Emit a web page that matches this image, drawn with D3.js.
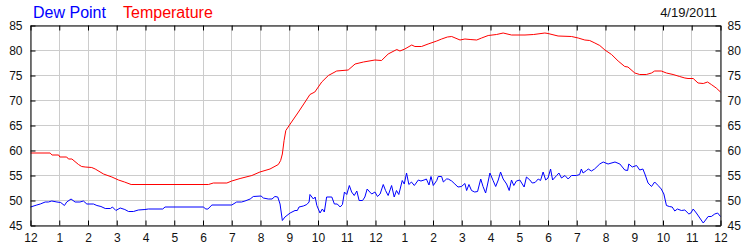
<!DOCTYPE html>
<html>
<head>
<meta charset="utf-8">
<script src="https://cdn.jsdelivr.net/npm/d3@7"></script>
<style>
  body { margin: 0; background: #fff; }
  svg { display: block; font-family: "Liberation Sans", Arial, sans-serif; }
</style>
</head>
<body>
<div id="chart"></div>
<script>
var chartDate = "4/19/2011";
var seriesNames = ["Dew Point", "Temperature"];
var yTicks = [45, 50, 55, 60, 65, 70, 75, 80, 85];

var tempHours = [0, 0.68, 0.75, 0.98, 1.02, 1.26, 1.32, 1.44, 1.67, 1.78, 1.9, 2.13, 2.25, 2.54, 2.83, 3.06, 3.27, 3.5,
  6.19, 6.36, 6.83, 7.0, 7.29, 7.7, 7.98, 8.33, 8.62, 8.7, 8.76, 8.82, 8.88, 9.08, 9.32, 9.55, 9.72, 9.89,
  10.13, 10.36, 10.65, 11.05, 11.29, 11.58, 11.98, 12.21, 12.44, 12.74, 12.85, 13.02, 13.26, 13.37, 13.6, 13.83,
  14.13, 14.3, 14.5, 14.65, 14.94, 15.11, 15.29, 15.52, 15.69, 15.92, 16.21, 16.44, 16.73, 17.2, 17.5, 17.89,
  18.0, 18.35, 18.82, 19.05, 19.28, 19.45, 19.63, 19.8, 19.98, 20.21, 20.44, 20.67, 20.78, 21.02, 21.19, 21.42,
  21.6, 21.71, 21.94, 22.12, 22.35, 22.58, 22.76, 22.87, 23.05, 23.22, 23.4, 23.55, 23.68, 23.85, 24.0];
var tempValues = [59.5, 59.5, 59.1, 59.1, 58.7, 58.7, 58.3, 58.3, 57.2, 56.8, 56.7, 56.6, 56.3, 55.3, 54.7, 54.1, 53.7, 53.2,
  53.2, 53.5, 53.5, 53.9, 54.4, 55.0, 55.7, 56.3, 57.2, 58.0, 59.3, 62.0, 64.0, 65.7, 67.7, 69.7, 71.2, 71.7,
  73.7, 75.0, 75.9, 76.1, 77.3, 77.7, 78.1, 78.0, 79.3, 80.2, 79.9, 80.3, 81.1, 80.8, 80.8, 81.3,
  81.9, 82.3, 82.7, 82.8, 82.1, 82.3, 82.2, 82.1, 82.5, 83.0, 83.2, 83.5, 83.1, 83.1, 83.2, 83.5,
  83.4, 82.9, 82.8, 82.5, 82.1, 82.0, 81.5, 81.0, 80.1, 79.2, 77.9, 76.8, 76.7, 75.5, 75.2, 75.2,
  75.5, 75.9, 75.9, 75.5, 75.2, 74.8, 74.5, 74.4, 74.4, 73.5, 73.4, 73.7, 73.2, 72.5, 71.7];

var dewHours = [0, 0.22, 0.34, 0.51, 0.62, 0.74, 0.92, 1.05, 1.18, 1.26, 1.41, 1.55, 1.72, 1.84, 1.96, 2.19, 2.31, 2.45,
  2.6, 2.78, 2.85, 2.97, 3.12, 3.28, 3.41, 3.58, 3.75, 3.98, 4.1, 4.6, 4.68, 6.01, 6.1, 6.17, 6.31, 7.0,
  7.17, 7.34, 7.46, 7.64, 7.75, 8.02, 8.1, 8.27, 8.4, 8.5, 8.6, 8.68, 8.76, 8.85, 9.03, 9.2, 9.28, 9.34,
  9.49, 9.61, 9.69, 9.72, 9.84, 9.9, 9.96, 10.07, 10.15, 10.22, 10.3, 10.48, 10.57, 10.67, 10.77, 10.85,
  10.92, 11.0, 11.09, 11.17, 11.26, 11.35, 11.43, 11.55, 11.63, 11.71, 11.8, 11.87, 11.98, 12.07, 12.16, 12.27,
  12.35, 12.44, 12.56, 12.65, 12.73, 12.81, 12.93, 13.0, 13.08, 13.16, 13.25, 13.35, 13.49, 13.58, 13.69, 13.77,
  13.86, 13.93, 14.01, 14.13, 14.18, 14.3, 14.36, 14.47, 14.53, 14.65, 14.76, 14.87, 14.99, 15.11, 15.17, 15.25,
  15.34, 15.45, 15.55, 15.66, 15.74, 15.83, 15.9, 15.98, 16.09, 16.18, 16.27, 16.35, 16.44, 16.56, 16.65, 16.73,
  16.81, 16.9, 17.02, 17.17, 17.25, 17.37, 17.45, 17.55, 17.66, 17.74, 17.83, 17.92, 18.0, 18.09, 18.16, 18.3,
  18.38, 18.47, 18.59, 18.7, 18.82, 18.99, 19.1, 19.16, 19.22, 19.34, 19.4, 19.51, 19.62, 19.8, 19.92, 20.09,
  20.33, 20.5, 20.67, 20.77, 20.81, 20.93, 21.08, 21.19, 21.3, 21.37, 21.48, 21.6, 21.71, 21.83, 21.94, 22.03,
  22.12, 22.22, 22.32, 22.41, 22.5, 22.64, 22.76, 22.9, 22.97, 23.05, 23.16, 23.28, 23.4, 23.48, 23.57, 23.68,
  23.8, 23.9, 24.0];
var dewValues = [48.7, 49.1, 49.3, 49.7, 49.7, 49.9, 49.7, 49.6, 49.0, 49.7, 50.3, 49.7, 49.7, 49.9, 49.3, 49.3, 49.0, 48.8,
  48.4, 48.4, 48.7, 48.0, 48.5, 48.2, 47.8, 47.8, 48.1, 48.2, 48.3, 48.3, 48.7, 48.7, 48.3, 48.3, 49.1, 49.1,
  49.7, 49.7, 49.9, 50.3, 50.8, 50.9, 50.5, 50.3, 50.3, 50.8, 50.7, 49.3, 46.0, 46.7, 47.5, 48.0, 48.0, 48.7,
  48.9, 49.2, 49.7, 51.2, 50.3, 50.7, 49.0, 47.5, 48.3, 47.7, 50.7, 50.7, 49.3, 49.3, 48.7, 49.2,
  51.7, 51.2, 53.0, 51.7, 51.0, 51.9, 50.0, 50.0, 50.7, 52.3, 51.7, 51.3, 51.7, 50.8, 51.3, 53.2,
  52.0, 51.0, 53.0, 50.7, 52.0, 51.2, 54.0, 53.3, 55.5, 53.2, 53.7, 53.0, 54.1, 53.9, 54.1, 54.3,
  53.1, 54.8, 53.0, 54.0, 54.8, 54.8, 53.7, 54.3, 54.3, 53.9, 53.3, 52.7, 52.8, 53.4, 52.0, 53.2,
  52.0, 51.7, 51.8, 54.3, 52.8, 51.5, 53.3, 55.5, 54.0, 52.8, 54.1, 55.7, 54.3, 53.3, 52.0, 54.1,
  53.0, 53.9, 54.1, 52.7, 54.7, 54.1, 53.5, 53.6, 54.3, 54.0, 55.7, 54.1, 54.5, 56.3, 54.1, 55.0,
  55.5, 54.5, 55.0, 54.3, 55.0, 55.0, 55.2, 56.3, 55.5, 56.0, 56.3, 55.9, 56.3, 57.3, 57.7, 57.3,
  57.7, 57.3, 56.1, 56.0, 57.3, 56.7, 57.0, 56.1, 56.3, 55.3, 53.5, 52.8, 53.7, 53.0, 52.3, 51.3,
  49.0, 48.8, 48.7, 47.9, 48.3, 48.0, 48.1, 47.3, 47.5, 48.3, 47.5, 46.5, 45.5, 46.1, 46.8, 46.8,
  47.3, 47.5, 46.8];

var width = 750,
    height = 250,
    plotLeft = 30.5,
    plotRight = 720.5,
    plotTop = 25.5,
    plotBottom = 225.5;

var day = new Date(2011, 3, 19);
function toDate(h) { return new Date(day.getTime() + h * 3600e3); }

var tempData = tempHours.map(function (h, i) { return [toDate(h), tempValues[i]]; });
var dewData = dewHours.map(function (h, i) { return [toDate(h), dewValues[i]]; });

var x = d3.scaleTime()
    .domain([day, toDate(24)])
    .range([plotLeft, plotRight]);

var y = d3.scaleLinear()
    .domain([45, 85])
    .range([plotBottom, plotTop]);

var hours = d3.timeHour.every(1).range(day, toDate(24.01));

var svg = d3.select('#chart')
    .append('svg')
    .attr('width', width)
    .attr('height', height);

var grid = svg.append('g')
    .attr('stroke', '#cccccc')
    .attr('stroke-width', 1);

grid.selectAll('line.v')
    .data(hours)
    .enter().append('line')
        .attr('class', 'v')
        .attr('x1', function (d) { return Math.round(x(d) - 0.5) + 0.5; })
        .attr('x2', function (d) { return Math.round(x(d) - 0.5) + 0.5; })
        .attr('y1', plotTop)
        .attr('y2', plotBottom);

grid.selectAll('line.h')
    .data(yTicks)
    .enter().append('line')
        .attr('class', 'h')
        .attr('x1', plotLeft)
        .attr('x2', plotRight)
        .attr('y1', function (d) { return y(d); })
        .attr('y2', function (d) { return y(d); });

var line = d3.line()
    .x(function (d) { return x(d[0]); })
    .y(function (d) { return y(d[1]); });

svg.append('path')
    .datum(tempData)
    .attr('fill', 'none')
    .attr('stroke', '#ff0000')
    .attr('stroke-width', 1)
    .attr('d', line);

svg.append('path')
    .datum(dewData)
    .attr('fill', 'none')
    .attr('stroke', '#0000ff')
    .attr('stroke-width', 1)
    .attr('d', line);

var xBottom = d3.axisBottom(x)
    .tickValues(hours)
    .tickFormat(d3.timeFormat('%-I'))
    .tickSizeInner(-5)
    .tickSizeOuter(0)
    .tickPadding(8);

var xTop = d3.axisTop(x)
    .tickValues(hours)
    .tickFormat('')
    .tickSizeInner(-5)
    .tickSizeOuter(0);

var yLeft = d3.axisLeft(y)
    .tickValues(yTicks)
    .tickSizeInner(-5)
    .tickSizeOuter(0)
    .tickPadding(8);

var yRight = d3.axisRight(y)
    .tickValues(yTicks)
    .tickSizeInner(-5)
    .tickSizeOuter(0)
    .tickPadding(7);

function styleAxis(g) {
    g.attr('font-family', null).attr('font-size', null);
    g.selectAll('path').attr('stroke', '#000');
    g.selectAll('line').attr('stroke', '#000');
    g.selectAll('text').attr('fill', '#111').style('font-size', '12px');
}

svg.append('g').attr('transform', 'translate(0,' + plotBottom + ')').call(xBottom).call(styleAxis);
svg.append('g').attr('transform', 'translate(0,' + plotTop + ')').call(xTop).call(styleAxis);
svg.append('g').attr('transform', 'translate(' + plotLeft + ',0)').call(yLeft).call(styleAxis);
svg.append('g').attr('transform', 'translate(' + plotRight + ',0)').call(yRight).call(styleAxis);

svg.append('text')
    .attr('x', 33)
    .attr('y', 18)
    .attr('fill', '#0000ff')
    .style('font-size', '16px')
    .text(seriesNames[0]);

svg.append('text')
    .attr('x', 123)
    .attr('y', 18)
    .attr('fill', '#ff0000')
    .style('font-size', '16px')
    .text(seriesNames[1]);

svg.append('text')
    .attr('x', 717)
    .attr('y', 17)
    .attr('text-anchor', 'end')
    .attr('fill', '#111')
    .style('font-size', '13px')
    .text(chartDate);
</script>
</body>
</html>
